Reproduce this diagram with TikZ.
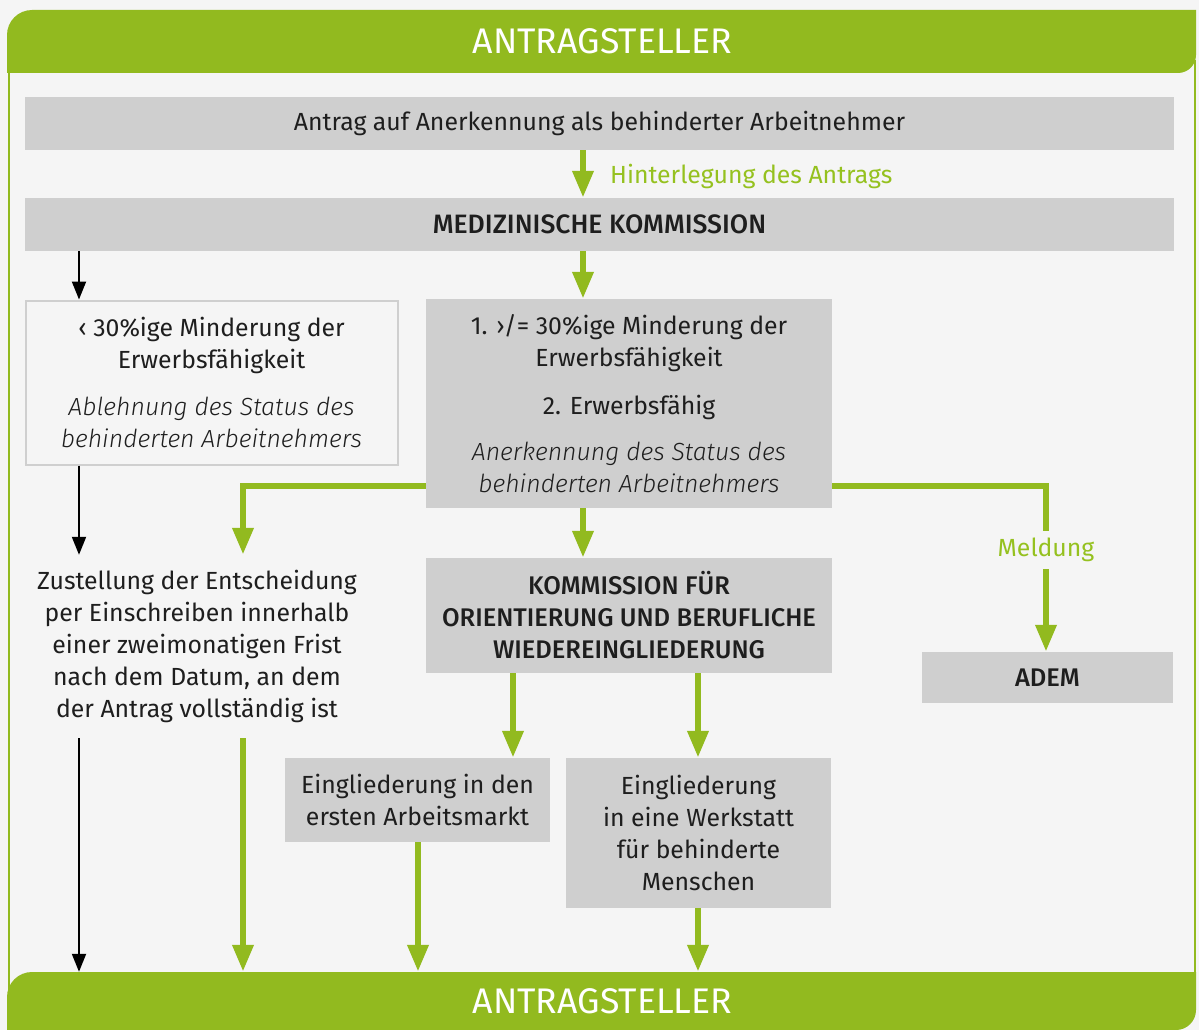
\documentclass[tikz,border=0pt]{standalone}
\usepackage{fontspec}
\setmainfont{Fira Sans}[ItalicFont={Fira Sans Light Italic},BoldFont={Fira Sans Medium}]
\usetikzlibrary{arrows.meta}
\definecolor{bg}{HTML}{F5F5F5}
\definecolor{gr}{HTML}{92BA1F}
\definecolor{grtext}{HTML}{95C11F}
\definecolor{boxg}{HTML}{CFCFCF}
\definecolor{txt}{HTML}{1E1E1E}
\newcommand{\bld}{\fontsize{25.5}{32}\selectfont\bfseries}
\newcommand{\bldL}{\fontsize{26.6}{32}\selectfont\bfseries}
\begin{document}
\begin{tikzpicture}[x=1pt,y=-1pt,
  bodyfont/.style={font=\fontsize{24.8}{32}\selectfont},
  graybox/.style={fill=boxg, inner sep=0pt, align=center, text=txt, bodyfont},
  framebox/.style={fill=bg, draw=boxg, line width=2pt, inner sep=0pt, align=center, text=txt, bodyfont},
  plaintext/.style={inner sep=0pt, align=center, text=txt, bodyfont},
  hdr/.style={inner sep=0pt, text=white, font=\fontsize{35.6}{38}\selectfont},
  glabel/.style={inner sep=0pt, text=grtext, bodyfont},
  gline/.style={draw=gr, line width=6.5pt},
  garrow/.style={gline, -{Triangle[width=20pt,length=27pt]}},
  barrow/.style={draw=black, line width=2pt, -{Triangle[width=14pt,length=18pt]}}
]
\useasboundingbox (0,0) rectangle (1199,1030);
\fill[bg] (0,0) rectangle (1199,1030);
% frame border lines
\draw[gr, line width=2pt] (9,60) -- (9,990);
\draw[gr, line width=2pt] (1194.5,60) -- (1194.5,990);
% header band
\fill[gr] (7,73) -- (7,35) arc[start angle=180,end angle=270,radius=25] -- (1196,10) -- (1196,55) arc[start angle=0,end angle=90,radius=18] -- cycle;
% bottom band
\fill[gr] (7,1030) -- (7,997) arc[start angle=180,end angle=270,radius=25] -- (1196,972) -- (1196,1010) arc[start angle=0,end angle=90,radius=20] -- cycle;

\node[hdr, minimum width=1189pt, minimum height=63pt] (top) at (602.5,41.5) {ANTRAGSTELLER};
\node[hdr, minimum width=1189pt, minimum height=58pt] (bot) at (602.5,1001) {ANTRAGSTELLER};

\node[graybox, minimum width=1149pt, minimum height=53pt] (antrag) at (599.5,123.5) {Antrag auf Anerkennung als behinderter Arbeitnehmer};
\node[graybox, minimum width=1149pt, minimum height=53pt] (medkom) at (599.5,224.5) {\bldL MEDIZINISCHE KOMMISSION};

\node[framebox, minimum width=372pt, minimum height=164pt] (ablehn) at (211.5,382.5)
  {‹ 30\%ige Minderung der\\Erwerbsfähigkeit\\[15pt]\itshape Ablehnung des Status des\\\itshape behinderten Arbeitnehmers};

\node[graybox, minimum width=406pt, minimum height=209pt] (anerk) at (629,403.5)
  {1. ›/= 30\%ige Minderung der\\Erwerbsfähigkeit\\[16pt]2. Erwerbsfähig\\[14pt]\itshape Anerkennung des Status des\\\itshape behinderten Arbeitnehmers};

\node[plaintext, minimum height=183pt] (zust) at (197,646.5)
  {Zustellung der Entscheidung\\per Einschreiben innerhalb\\einer zweimonatigen Frist\\nach dem Datum, an dem\\der Antrag vollständig ist};

\node[graybox, minimum width=406pt, minimum height=115pt] (kom) at (629,615.5)
  {\bld KOMMISSION FÜR\\\bld ORIENTIERUNG UND BERUFLICHE\\\bld WIEDEREINGLIEDERUNG};

\node[graybox, minimum width=251pt, minimum height=51pt] (adem) at (1047.5,677.5) {\bld ADEM};

\node[graybox, minimum width=265pt, minimum height=84pt] (erster) at (417.5,800)
  {Eingliederung in den\\ersten Arbeitsmarkt};
\node[graybox, minimum width=265pt, minimum height=150pt] (werk) at (698.5,833)
  {Eingliederung\\in eine Werkstatt\\für behinderte\\Menschen};

\node[glabel, anchor=west] (hint) at (610,176) {Hinterlegung des Antrags};
\node[glabel, minimum height=38pt] (meld) at (1046,550) {Meldung};

% column coordinates
\coordinate (xL) at (79,0);
\coordinate (xG) at (243,0);
\coordinate (xE) at (418,0);
\coordinate (xK) at (513,0);
\coordinate (xC) at (583,0);
\coordinate (xW) at (698,0);
\coordinate (yB) at (0,486);

% black connectors
\draw[barrow] (medkom.south -| xL) -- (ablehn.north -| xL);
\draw[barrow] (ablehn.south -| xL) -- (zust.north -| xL);
\draw[barrow] (zust.south -| xL) -- (bot.north -| xL);

% green connectors
\draw[garrow] (antrag.south -| xC) -- (medkom.north -| xC);
\draw[garrow] (medkom.south -| xC) -- (anerk.north -| xC);
\draw[garrow] (anerk.west |- yB) -| (zust.north -| xG);
\draw[gline] (anerk.east |- yB) -| (meld.north);
\draw[garrow] (meld.south) -- (adem.north -| meld.south);
\draw[garrow] (anerk.south -| xC) -- (kom.north -| xC);
\draw[garrow] (kom.south -| xK) -- (erster.north -| xK);
\draw[garrow] (kom.south -| xW) -- (werk.north -| xW);
\draw[garrow] (zust.south -| xG) -- (bot.north -| xG);
\draw[garrow] (erster.south -| xE) -- (bot.north -| xE);
\draw[garrow] (werk.south -| xW) -- (bot.north -| xW);
\end{tikzpicture}
\end{document}
